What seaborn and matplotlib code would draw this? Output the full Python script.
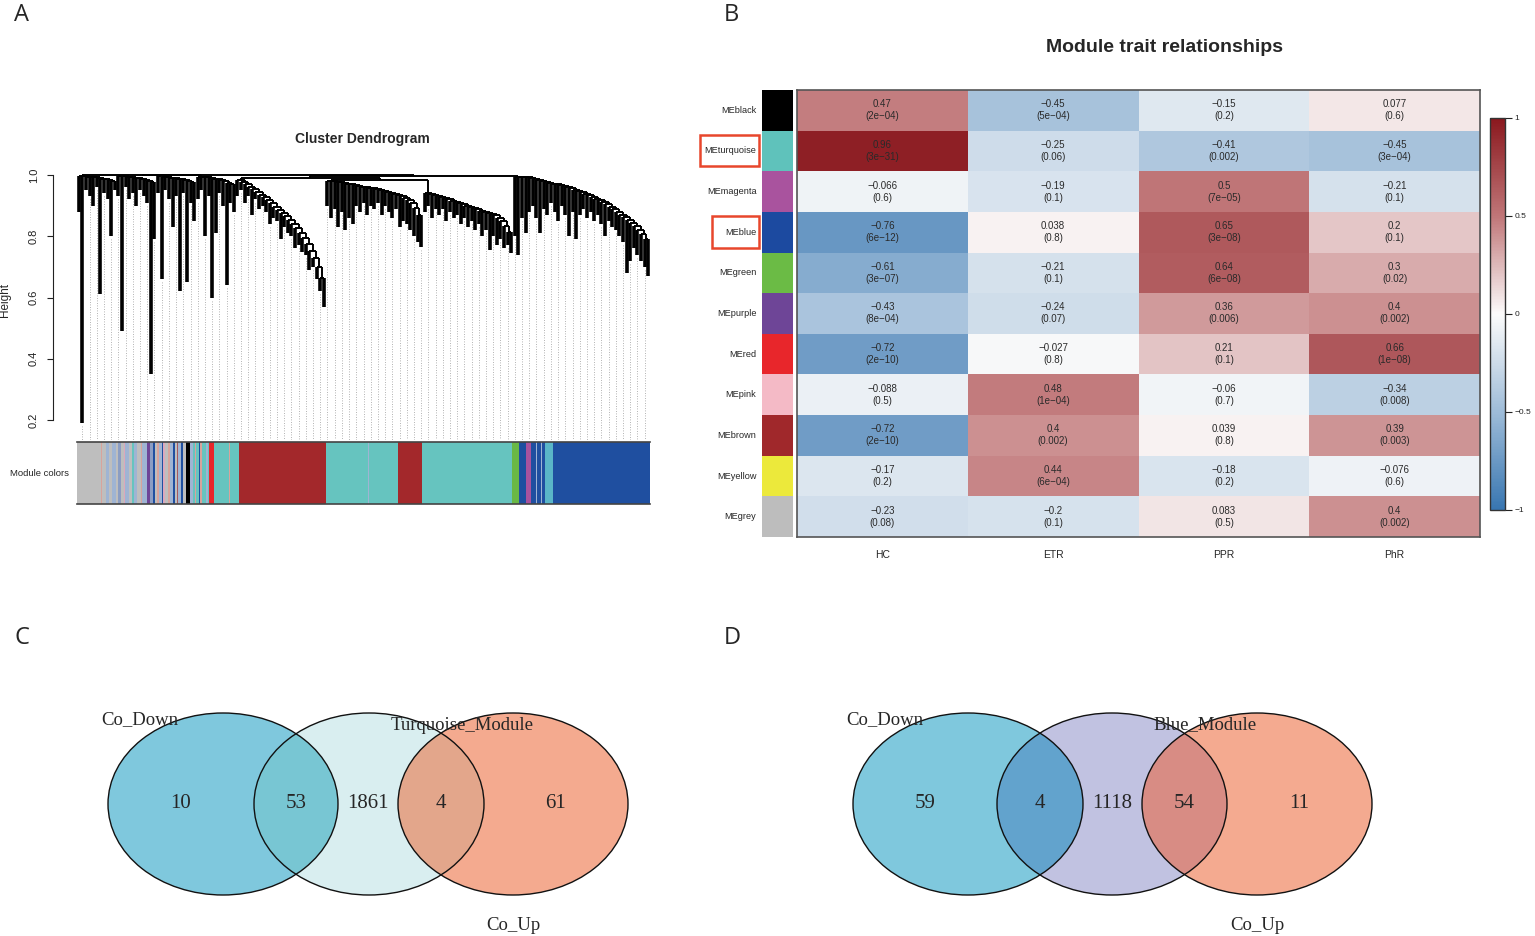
import numpy as np
import matplotlib
matplotlib.use('Agg')
import matplotlib.pyplot as plt
import seaborn as sns
from matplotlib.colors import LinearSegmentedColormap, ListedColormap
from matplotlib.collections import LineCollection
from matplotlib.patches import Ellipse, Rectangle

sns.set_style('white')
plt.rcParams['font.family'] = ['Liberation Sans', 'DejaVu Sans']

# ---------------- panel A: dendrogram data (merge heights / leaf ends) ----------------
r1a_top = [0.998, 0.996, 0.995, 0.993, 0.992, 0.99, 0.988, 0.986, 0.983, 0.98]
r1a_low = [0.88, 0.19, 0.95, 0.93, 0.90, 0.96, 0.61, 0.94, 0.92, 0.80, 0.95]
r1b_top = [0.997, 0.996, 0.994, 0.992, 0.99, 0.989, 0.987, 0.985, 0.982, 0.978]
r1b_low = [0.93, 0.49, 0.96, 0.92, 0.94, 0.90, 0.95, 0.93, 0.91, 0.35, 0.79]
r1c_top = [0.996, 0.995, 0.993, 0.991, 0.99, 0.988, 0.986, 0.984, 0.981, 0.977]
r1c_low = [0.94, 0.66, 0.95, 0.92, 0.83, 0.93, 0.62, 0.94, 0.65, 0.91, 0.85]
r1d_top = [0.995, 0.994, 0.992, 0.99, 0.988, 0.986, 0.984, 0.98, 0.975, 0.97]
r1d_low = [0.92, 0.95, 0.80, 0.93, 0.60, 0.81, 0.94, 0.90, 0.64, 0.91, 0.88]

fan2_top = [0.985, 0.978, 0.97, 0.962, 0.953, 0.945, 0.936, 0.927, 0.917, 0.907, 0.897, 0.887,
            0.876, 0.865, 0.853, 0.84, 0.826, 0.81, 0.793, 0.775, 0.753, 0.728, 0.70, 0.665]
fan2_low = [0.93, 0.95, 0.91, 0.93, 0.87, 0.92, 0.89, 0.90, 0.88, 0.84, 0.86, 0.85, 0.79,
            0.83, 0.81, 0.80, 0.76, 0.77, 0.75, 0.74, 0.69, 0.70, 0.66, 0.62, 0.57]

midA_top = [0.982, 0.98, 0.978, 0.976, 0.974, 0.972, 0.97, 0.968, 0.965, 0.962, 0.96, 0.958, 0.956,
            0.954, 0.951, 0.948, 0.945, 0.942, 0.939, 0.935, 0.931, 0.926, 0.918, 0.907, 0.893, 0.87]
midA_low = [0.90, 0.86, 0.89, 0.83, 0.88, 0.82, 0.86, 0.84, 0.90, 0.88, 0.91, 0.87, 0.90, 0.89,
            0.91, 0.87, 0.90, 0.88, 0.86, 0.89, 0.83, 0.85, 0.84, 0.82, 0.80, 0.78, 0.765]

midB_top = [0.94, 0.937, 0.934, 0.931, 0.928, 0.924, 0.92, 0.916, 0.912, 0.908, 0.904, 0.9,
            0.896, 0.892, 0.888, 0.884, 0.88, 0.876, 0.872, 0.868, 0.86, 0.85, 0.835, 0.815]
midB_low = [0.88, 0.90, 0.86, 0.89, 0.87, 0.89, 0.85, 0.88, 0.86, 0.87, 0.84, 0.86, 0.83,
            0.85, 0.82, 0.84, 0.80, 0.82, 0.755, 0.80, 0.77, 0.79, 0.76, 0.77, 0.745]

right_top = [0.995, 0.994, 0.993, 0.992, 0.99, 0.987, 0.983, 0.979, 0.976, 0.973, 0.971, 0.969,
             0.967, 0.964, 0.96, 0.956, 0.952, 0.948, 0.944, 0.939, 0.934, 0.929, 0.923, 0.917,
             0.911, 0.904, 0.897, 0.889, 0.88, 0.871, 0.862, 0.853, 0.843, 0.832, 0.82, 0.806, 0.79]
right_low = [0.80, 0.74, 0.86, 0.81, 0.88, 0.90, 0.86, 0.81, 0.89, 0.87, 0.91, 0.88, 0.85,
             0.90, 0.87, 0.80, 0.88, 0.79, 0.87, 0.89, 0.86, 0.88, 0.85, 0.87, 0.84, 0.80,
             0.85, 0.83, 0.82, 0.80, 0.78, 0.68, 0.72, 0.76, 0.74, 0.72, 0.70, 0.67]

# heights of the upper joins: region1 comb, midA+midB, fan2+mid, +right, root
join_heights = [0.999, 0.985, 0.99, 0.997, 1.0]

# module colour strip (colour name, number of genes)
strip_names = ['grey',
               'grey', 'salmon', 'grey', 'ltblue', 'grey', 'ltblue', 'grey', 'bluegray', 'grey', 'pink',
               'ltblue', 'grey', 'turq', 'ltblue', 'grey', 'salmon', 'ltblue',
               'ltblue', 'purple',
               'bluegray', 'blue', 'grey', 'salmon', 'ltblue', 'blue', 'pink', 'grey', 'salmon',
               'ltblue', 'blue', 'grey', 'rosebrown', 'ltblue', 'blue', 'grey',
               'grey', 'black',
               'ltblue', 'turq', 'salmon', 'turq', 'blue', 'salmon', 'turq', 'ltblue',
               'turq', 'red', 'turq', 'salmon', 'turq', 'brown', 'turq', 'ltblue', 'turq', 'brown',
               'turq', 'green', 'blue', 'magenta', 'blue', 'ltblue', 'blue', 'ltblue', 'blue',
               'turq2', 'blue']
strip_sizes = [21,
               3, 1, 4, 3, 3, 4, 2, 3, 3, 1, 4, 3, 2, 3, 4, 1, 2,
               3, 3,
               3, 2, 2, 2, 3, 1, 2, 3, 2, 3, 2, 2, 1, 3, 2, 1,
               2, 4,
               3, 2, 1, 3, 1, 2, 4, 2,
               1, 5, 15, 1, 9, 87, 43, 1, 29, 24,
               90, 7, 7, 5, 5, 1, 4, 1, 3,
               8, 97]

# ---------------- panel B: module-trait correlations ----------------
modules = ['MEblack', 'MEturquoise', 'MEmagenta', 'MEblue', 'MEgreen', 'MEpurple',
           'MEred', 'MEpink', 'MEbrown', 'MEyellow', 'MEgrey']
module_colors = ['#000000', '#5fc2bb', '#a9539e', '#1c4aa0', '#6bbb45', '#6e4597',
                 '#e8262b', '#f4bac6', '#a0282b', '#ece93b', '#bdbdbd']
traits = ['HC', 'ETR', 'PPR', 'PhR']
cor_vals = np.array([
    [0.47, -0.45, -0.15, 0.077],
    [0.96, -0.25, -0.41, -0.45],
    [-0.066, -0.19, 0.5, -0.21],
    [-0.76, 0.038, 0.65, 0.2],
    [-0.61, -0.21, 0.64, 0.3],
    [-0.43, -0.24, 0.36, 0.4],
    [-0.72, -0.027, 0.21, 0.66],
    [-0.088, 0.48, -0.06, -0.34],
    [-0.72, 0.4, 0.039, 0.39],
    [-0.17, 0.44, -0.18, -0.076],
    [-0.23, -0.2, 0.083, 0.4],
])
p_vals = [
    ['2e-04', '5e-04', '0.2', '0.6'],
    ['3e-31', '0.06', '0.002', '3e-04'],
    ['0.6', '0.1', '7e-05', '0.1'],
    ['6e-12', '0.8', '3e-08', '0.1'],
    ['3e-07', '0.1', '6e-08', '0.02'],
    ['8e-04', '0.07', '0.006', '0.002'],
    ['2e-10', '0.8', '0.1', '1e-08'],
    ['0.5', '1e-04', '0.7', '0.008'],
    ['2e-10', '0.002', '0.8', '0.003'],
    ['0.2', '6e-04', '0.2', '0.6'],
    ['0.08', '0.1', '0.5', '0.002'],
]
highlighted = ['MEturquoise', 'MEblue']

# ---------------- panels C / D: Venn counts ----------------
venn_c_names = ['Co_Down', 'Turquoise_Module', 'Co_Up']
venn_c_counts = [10, 53, 1861, 4, 61]
venn_d_names = ['Co_Down', 'Blue_Module', 'Co_Up']
venn_d_counts = [59, 4, 1118, 54, 11]

# ---------------- styling ----------------
W, H = 1535, 936
palette = {'grey': '#bebebe', 'salmon': '#d8a39c', 'ltblue': '#9fb4d3', 'bluegray': '#8b9dc3',
           'pink': '#dba8bd', 'turq': '#66c4bf', 'blue': '#1f4fa0', 'purple': '#6e4597',
           'rosebrown': '#a5595e', 'black': '#000000', 'red': '#e8262b', 'brown': '#a3282b',
           'green': '#6ab845', 'magenta': '#a9529e', 'turq2': '#5ab6c8'}


def rect(x0, y0, x1, y1):
    return [x0 / W, 1 - y1 / H, (x1 - x0) / W, (y1 - y0) / H]


def leaf(low):
    return {'low': low}


def chain(tops, lows):
    cur = leaf(lows[-1])
    for t, lo in zip(tops[::-1], lows[-2::-1]):
        cur = {'h': t, 'kids': [leaf(lo), cur]}
    return cur


def layout(t, counter, twigs, joins, leaves):
    # returns (x, top) of the node; leaf twigs and joining lines are kept apart
    if 'low' in t:
        x = counter[0]
        counter[0] += 1
        leaves.append((x, t['low']))
        return x, t['low'], True
    pos = [layout(k, counter, twigs, joins, leaves) for k in t['kids']]
    for x, top, is_leaf in pos:
        (twigs if is_leaf else joins).append([(x, top), (x, t['h'])])
    joins.append([(pos[0][0], t['h']), (pos[-1][0], t['h'])])
    return (pos[0][0] + pos[-1][0]) / 2, t['h'], False


fig = plt.figure(figsize=(W / 100, H / 100), dpi=100)

# ---------- A ----------
region1 = {'h': join_heights[0], 'kids': [chain(r1a_top, r1a_low), chain(r1b_top, r1b_low),
                                          chain(r1c_top, r1c_low), chain(r1d_top, r1d_low)]}
mid = {'h': join_heights[1], 'kids': [chain(midA_top, midA_low), chain(midB_top, midB_low)]}
leftmid = {'h': join_heights[2], 'kids': [chain(fan2_top, fan2_low), mid]}
upper = {'h': join_heights[3], 'kids': [leftmid, chain(right_top, right_low)]}
root = {'h': join_heights[4], 'kids': [region1, upper]}

twigs, joins, leaves = [], [], []
layout(root, [0], twigs, joins, leaves)
n_leaves = len(leaves)

ax_d = fig.add_axes(rect(77, 160, 650, 440))
ylo = 0.2 - 20 / 306.25
ax_d.set_xlim(-0.5, n_leaves - 0.5)
ax_d.set_ylim(ylo, 1.0 + 15 / 306.25)
guide = [[(x, lo - 0.01), (x, ylo)] for x, lo in leaves[1::2]]
ax_d.add_collection(LineCollection(guide, colors='#9a9a9a', linewidths=0.6, linestyles=(0, (1, 2))))
ax_d.add_collection(LineCollection(twigs, colors='black', linewidths=2.6, capstyle='butt'))
ax_d.add_collection(LineCollection(joins, colors='black', linewidths=1.4))
for s in ['top', 'right', 'bottom']:
    ax_d.spines[s].set_visible(False)
ax_d.spines['left'].set_position(('outward', 17))
ax_d.spines['left'].set_bounds(0.2, 1.0)
ax_d.spines['left'].set_color('#222')
ax_d.spines['left'].set_linewidth(0.8)
ax_d.set_xticks([])
ax_d.set_yticks([0.2, 0.4, 0.6, 0.8, 1.0])
ax_d.set_yticklabels(['0.2', '0.4', '0.6', '0.8', '1.0'], rotation=90, va='center')
ax_d.tick_params(axis='y', length=4.5, width=0.8, pad=6, labelsize=8, colors='#222', left=True)
ax_d.patch.set_alpha(0)

ax_m = fig.add_axes(rect(77, 442, 650, 504))
starts = np.concatenate([[0], np.cumsum(strip_sizes)[:-1]])
ax_m.barh(0, strip_sizes, left=starts, height=1, color=[palette[c] for c in strip_names],
          edgecolor='none', align='center')
ax_m.set_xlim(0, sum(strip_sizes))
ax_m.set_ylim(-0.5, 0.5)
ax_m.set_xticks([])
ax_m.set_yticks([])
for s in ['left', 'right']:
    ax_m.spines[s].set_visible(False)
for s in ['top', 'bottom']:
    ax_m.spines[s].set_visible(True)
    ax_m.spines[s].set_color('#444')
    ax_m.spines[s].set_linewidth(1.2)

fig.text(362 / W, 1 - 139 / H, 'Cluster Dendrogram', ha='center', va='center',
         fontsize=10, fontweight='bold')
fig.text(5 / W, 1 - 300 / H, 'Height', rotation=90, ha='center', va='center', fontsize=8.5)
fig.text(40 / W, 1 - 473 / H, 'Module colors', ha='center', va='center', fontsize=6.8)

# ---------- B ----------
cmap = LinearSegmentedColormap.from_list(
    'bwr_wgcna', [(0.0, '#3876b1'), (0.25, '#9ebcd8'), (0.5, '#fcfbfb'),
                  (0.75, '#c07678'), (1.0, '#8a181e')])
annot = np.array([[f"{cor_vals[i, j]:g}\n({p_vals[i][j]})".replace('-', '\u2212')
                   for j in range(len(traits))] for i in range(len(modules))])

ax_hm = fig.add_axes(rect(797, 90, 1480, 537))
ax_side = fig.add_axes(rect(762, 90, 793, 537))
cax = fig.add_axes(rect(1490, 118, 1505, 510))

sns.heatmap(cor_vals, ax=ax_hm, cmap=cmap, vmin=-1, vmax=1, annot=annot, fmt='',
            annot_kws={'fontsize': 7, 'color': '#2a2a2a', 'linespacing': 1.25},
            cbar_ax=cax, xticklabels=traits, yticklabels=False, linewidths=0)
ax_hm.tick_params(axis='x', length=0, pad=9, labelsize=7.5)
for sp in ax_hm.spines.values():
    sp.set_visible(True)
    sp.set_color('#555')
    sp.set_linewidth(1.2)

sns.heatmap(np.arange(len(modules)).reshape(-1, 1), ax=ax_side, cmap=ListedColormap(module_colors),
            cbar=False, xticklabels=False, yticklabels=modules)
ax_side.tick_params(axis='y', length=0, pad=4, labelsize=6.6)
plt.setp(ax_side.get_yticklabels(), rotation=0)

cbar = ax_hm.collections[0].colorbar
cbar.set_ticks([-1, -0.5, 0, 0.5, 1])
cbar.set_ticklabels(['\u22121', '\u22120.5', '0', '0.5', '1'])
cax.tick_params(length=5, width=0.8, labelsize=6, pad=2, colors='#222')
cbar.outline.set_edgecolor('#333')
cbar.outline.set_linewidth(1.0)

box_left = {'MEturquoise': 700, 'MEblue': 712}
row_h = (537 - 90) / len(modules)
for name in highlighted:
    r = modules.index(name)
    y0 = 90 + r * row_h + 4
    y1 = 90 + (r + 1) * row_h - 5
    fig.add_artist(Rectangle((box_left[name] / W, 1 - y1 / H), (759 - box_left[name]) / W,
                             (y1 - y0) / H, transform=fig.transFigure, fill=False,
                             edgecolor='#e8462c', linewidth=1.8))

fig.text(1165 / W, 1 - 47 / H, 'Module trait relationships', ha='center', va='center',
         fontsize=14, fontweight='bold')

# ---------- C / D ----------
ax_v = fig.add_axes([0, 0, 1, 1])
ax_v.set_xlim(0, W)
ax_v.set_ylim(H, 0)
ax_v.axis('off')
ax_v.patch.set_alpha(0)

EW, EH = 230, 182


def draw_venn(ax, cx, cy, fills, counts, names):
    e = [Ellipse((x, cy), EW, EH, transform=ax.transData) for x in cx]
    ax.add_patch(Ellipse((cx[1], cy), EW, EH, facecolor=fills[2], edgecolor='none'))
    ax.add_patch(Ellipse((cx[0], cy), EW, EH, facecolor=fills[0], edgecolor='none'))
    ax.add_patch(Ellipse((cx[2], cy), EW, EH, facecolor=fills[4], edgecolor='none'))
    for k, f in [(0, fills[1]), (2, fills[3])]:
        p = Ellipse((cx[k], cy), EW, EH, facecolor=f, edgecolor='none')
        ax.add_patch(p)
        p.set_clip_path(e[1])
    for x in cx:
        ax.add_patch(Ellipse((x, cy), EW, EH, facecolor='none', edgecolor='#111', linewidth=1.0))
    l = [x - EW / 2 for x in cx]
    r = [x + EW / 2 for x in cx]
    xs = [(l[0] + l[1]) / 2, (l[1] + r[0]) / 2, (r[0] + l[2]) / 2, (l[2] + r[1]) / 2, (r[1] + r[2]) / 2]
    for x, c in zip(xs, counts):
        ax.text(x, cy, str(c), ha='center', va='center', fontsize=15, family='Liberation Serif')
    ax.text(cx[0] - 83, cy - 84, names[0], ha='center', va='center', fontsize=13.5,
            family='Liberation Serif')
    ax.text(cx[1] + 93, cy - 79, names[1], ha='center', va='center', fontsize=13.5,
            family='Liberation Serif')
    ax.text(cx[2], cy + 121, names[2], ha='center', va='center', fontsize=13.5,
            family='Liberation Serif')


draw_venn(ax_v, [223, 369, 513], 804,
          ['#7fc8dd', '#78c6d3', '#d9eef0', '#e3a68b', '#f4aa8f'], venn_c_counts, venn_c_names)
draw_venn(ax_v, [968, 1112, 1257], 804,
          ['#7fc8dd', '#62a3cd', '#c1c2e1', '#d88c84', '#f4aa90'], venn_d_counts, venn_d_names)

# panel letters
for letter, (x, y) in zip('ABCD', [(22, 15), (731, 15), (22, 638), (732, 638)]):
    fig.text(x / W, 1 - y / H, letter, ha='center', va='center', fontsize=17,
             family=['Open Sans', 'DejaVu Sans'])

fig.savefig('out.png', dpi=100)
